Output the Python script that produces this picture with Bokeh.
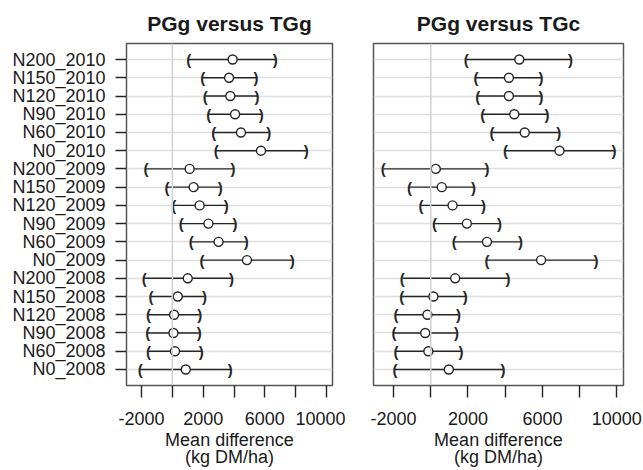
from bokeh.plotting import figure
from bokeh.layouts import row
from bokeh.models import FactorRange, Range1d, FixedTicker, Span, ColumnDataSource
from bokeh.core.properties import value
from bokeh.embed import file_html
from bokeh.resources import INLINE

# rows, top to bottom
categories = ["N200_2010", "N150_2010", "N120_2010", "N90_2010", "N60_2010", "N0_2010",
              "N200_2009", "N150_2009", "N120_2009", "N90_2009", "N60_2009", "N0_2009",
              "N200_2008", "N150_2008", "N120_2008", "N90_2008", "N60_2008", "N0_2008"]

tgg_lower = [1060, 1970, 2140, 2360, 2680, 2850, -1710, -350, 90, 580, 1230, 1920,
             -1820, -1380, -1540, -1600, -1540, -2080]
tgg_mean = [3910, 3680, 3760, 4070, 4450, 5750, 1120, 1380, 1770, 2340, 3000, 4840,
            1000, 350, 110, 70, 170, 870]
tgg_upper = [6680, 5430, 5490, 5770, 6250, 8690, 3940, 3110, 3500, 4070, 4800, 7780,
             3830, 2080, 1770, 1750, 1880, 3760]

tgc_lower = [1900, 2430, 2520, 2790, 3290, 4010, -2550, -1150, -520, 200, 1260, 3020,
             -1530, -1560, -1870, -1980, -1870, -1920]
tgc_mean = [4760, 4200, 4200, 4490, 5050, 6920, 270, 590, 1170, 1940, 3020, 5930,
            1310, 140, -180, -300, -130, 970]
tgc_upper = [7510, 5930, 5930, 6250, 6880, 9850, 3020, 2300, 2840, 3700, 4820, 8880,
             4150, 1850, 1490, 1380, 1620, 3880]

x_ticks = [-2000, 0, 2000, 4000, 6000, 8000, 10000]
x_tick_labels = {-2000: "-2000", 0: "", 2000: "2000", 4000: "", 6000: "6000", 8000: "", 10000: "10000"}

FONT = "Liberation Sans"
TXT = "#1a1a1a"
INK = "#262626"


def panel(title, lower, mean, upper, xr, width, bl, br, show_y):
    src = ColumnDataSource(dict(cat=categories, lo=lower, mid=mean, hi=upper))
    p = figure(width=width, height=470, output_backend="svg", toolbar_location=None,
               y_range=FactorRange(factors=list(reversed(categories)), range_padding=0.38,
                                   range_padding_units="absolute"),
               x_range=Range1d(*xr),
               min_border_left=bl, min_border_right=br, min_border_top=43, min_border_bottom=83)
    p.title.text = title
    p.title.align = "center"
    p.title.text_font = FONT
    p.title.text_font_size = "21px"
    p.title.text_font_style = "bold"
    p.title.text_color = TXT
    p.title.standoff = 17
    p.outline_line_color = "#555555"
    p.outline_line_width = 1.5
    p.background_fill_color = "white"
    p.border_fill_color = "white"

    p.xgrid.visible = False
    p.ygrid.grid_line_color = "#dedede"
    p.ygrid.grid_line_width = 1.5
    p.add_layout(Span(location=0, dimension="height", line_color="#d0d0d0", line_width=1.5))

    p.segment(x0="lo", y0="cat", x1="hi", y1="cat", source=src, line_color=INK, line_width=1.4)
    p.text(x="lo", y="cat", text=value("("), source=src, text_align="center", text_baseline="middle",
           text_font=value(FONT), text_font_size="15px", text_font_style="bold", text_color=INK)
    p.text(x="hi", y="cat", text=value(")"), source=src, text_align="center", text_baseline="middle",
           text_font=value(FONT), text_font_size="15px", text_font_style="bold", text_color=INK)
    p.scatter(x="mid", y="cat", source=src, size=9, fill_color="white", line_color=INK, line_width=1.4)

    xa = p.xaxis[0]
    xa.ticker = FixedTicker(ticks=x_ticks)
    xa.major_label_overrides = x_tick_labels
    xa.axis_line_color = None
    xa.major_tick_in = 0
    xa.major_tick_out = 12
    xa.major_tick_line_color = INK
    xa.major_tick_line_width = 1.4
    xa.minor_tick_line_color = None
    xa.major_label_standoff = 14
    xa.major_label_text_font = FONT
    xa.major_label_text_font_size = "18px"
    xa.major_label_text_color = TXT
    xa.axis_label = "Mean difference\n(kg DM/ha)"
    xa.axis_label_text_font = FONT
    xa.axis_label_text_font_size = "18px"
    xa.axis_label_text_font_style = "normal"
    xa.axis_label_text_color = TXT
    xa.axis_label_standoff = 2
    xa.axis_label_text_line_height = 0.88

    ya = p.yaxis[0]
    if show_y:
        ya.axis_line_color = None
        ya.major_tick_in = 0
        ya.major_tick_out = 11
        ya.major_tick_line_color = INK
        ya.major_tick_line_width = 1.4
        ya.major_label_standoff = 10
        ya.major_label_text_font = FONT
        ya.major_label_text_font_size = "18px"
        ya.major_label_text_color = TXT
    else:
        ya.visible = False
    return p


p1 = panel("PGg versus TGg", tgg_lower, tgg_mean, tgg_upper, (-2975, 10390), 345, 126, 13, True)
p2 = panel("PGg versus TGc", tgc_lower, tgc_mean, tgc_upper, (-3080, 10360), 298, 28, 20, False)

p = row(p1, p2)
open("out.html", "w").write(file_html(p, INLINE))
